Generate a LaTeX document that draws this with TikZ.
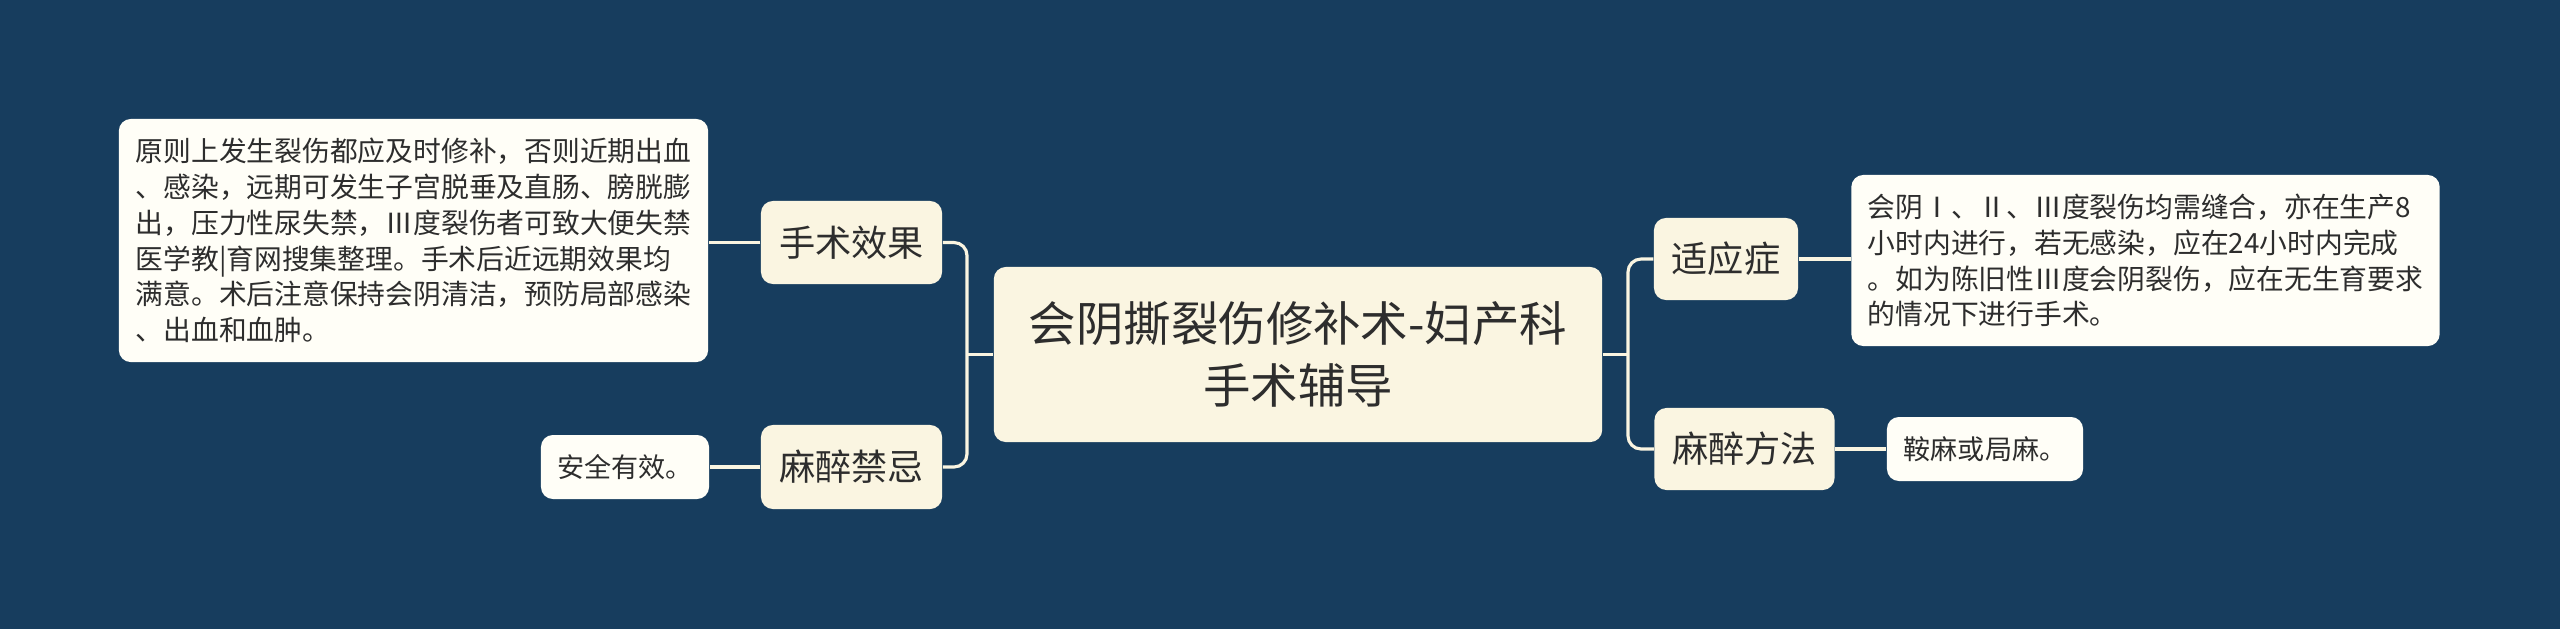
\documentclass[tikz,border=0pt]{standalone}
\usepackage{fontspec}
\setmainfont{Noto Sans CJK SC}
\usetikzlibrary{calc}
\definecolor{bgnavy}{RGB}{23,61,94}
\definecolor{rootfill}{RGB}{250,245,225}
\definecolor{leaffill}{RGB}{255,254,247}
\definecolor{inkgray}{RGB}{45,45,45}
\definecolor{linecream}{RGB}{250,245,225}

\begin{document}
\begin{tikzpicture}[x=0.01cm, y=-0.01cm,
	topic/.style={fill=rootfill, text=inkgray, rounded corners=0.12cm, inner sep=0pt, align=center},
	note/.style={fill=leaffill, text=inkgray, rounded corners=0.12cm, inner sep=0pt, align=left},
	link/.style={draw=linecream, line width=0.9pt, rounded corners=0.13cm}]
			%%%%% START %%%%%
			
			\fill[bgnavy] (0, 0) rectangle (2560, 629);
			\useasboundingbox (0, 0) rectangle (2560, 629);
			
			\node[topic, minimum width=6.08cm, minimum height=1.75cm, font=\fontsize{13.5}{17.6}\selectfont] (root) at (1298, 354.5) {会阴撕裂伤修补术-妇产科\\手术辅导};
			
			\node[topic, minimum width=1.81cm, minimum height=0.83cm, font=\fontsize{10.3}{12}\selectfont] (effect) at (851.5, 242.5) {手术效果};
			\node[topic, minimum width=1.81cm, minimum height=0.84cm, font=\fontsize{10.3}{12}\selectfont] (contra) at (851.5, 467) {麻醉禁忌};
			\node[topic, minimum width=1.44cm, minimum height=0.82cm, font=\fontsize{10.3}{12}\selectfont] (indic) at (1726, 259) {适应症};
			\node[topic, minimum width=1.80cm, minimum height=0.82cm, font=\fontsize{10.3}{12}\selectfont] (method) at (1744.5, 449) {麻醉方法};
			
			\node[note, minimum width=5.89cm, minimum height=2.43cm, font=\fontsize{7.9}{10.2}\selectfont] (effecttxt) at (413.5, 240.5) {原则上发生裂伤都应及时修补，否则近期出血\\、感染，远期可发生子宫脱垂及直肠、膀胱膨\\出，压力性尿失禁，Ⅲ度裂伤者可致大便失禁\\医学教|育网搜集整理。手术后近远期效果均\\满意。术后注意保持会阴清洁，预防局部感染\\、出血和血肿。};
			\node[note, minimum width=1.68cm, minimum height=0.64cm, font=\fontsize{7.7}{10}\selectfont] (contratxt) at (625, 467) {安全有效。};
			\node[note, minimum width=5.88cm, minimum height=1.71cm, font=\fontsize{7.9}{10.2}\selectfont] (indictxt) at (2145.5, 260.5) {会阴Ⅰ、Ⅱ、Ⅲ度裂伤均需缝合，亦在生产8\\小时内进行，若无感染，应在24小时内完成\\。如为陈旧性Ⅲ度会阴裂伤，应在无生育要求\\的情况下进行手术。};
			\node[note, minimum width=1.96cm, minimum height=0.64cm, font=\fontsize{7.7}{10}\selectfont] (methodtxt) at (1985, 449) {鞍麻或局麻。};
			
			\coordinate (ljoin) at (967, 354.5);
			\coordinate (rjoin) at (1628, 354.5);
			
			\draw[link] (root.west) -- (ljoin);
			\draw[link] (effect.east) -| (ljoin) |- (contra.east);
			\draw[link] (root.east) -- (rjoin);
			\draw[link] (indic.west) -| (rjoin) |- (method.west);
			
			\draw[link] (effect.west) -- (effect.west -| effecttxt.east);
			\draw[link] (contra.west) -- (contratxt.east);
			\draw[link] (indic.east) -- (indic.east -| indictxt.west);
			\draw[link] (method.east) -- (methodtxt.west);
			
			%%%%% END %%%%%
		\end{tikzpicture}
\end{document}
